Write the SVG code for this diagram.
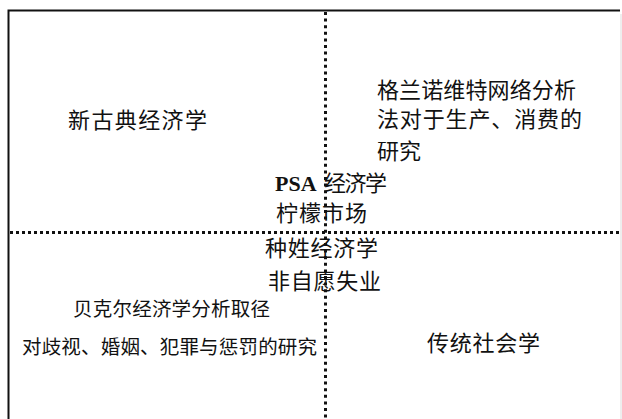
<svg xmlns="http://www.w3.org/2000/svg" width="622" height="419" viewBox="0 0 622 419">
<style>
.t{font-family:"Noto Sans CJK SC","Noto Sans CJK TC",sans-serif;font-size:22px;fill:#111}
.s{font-size:19.5px}
.b{font-family:"Liberation Serif","Noto Sans CJK SC",serif;font-weight:bold;font-size:22px;fill:#111}
.frame{stroke:#111;stroke-width:2;fill:none}
.vd{stroke:#111;stroke-width:3;stroke-dasharray:3 3.6;fill:none}
.hd{stroke:#111;stroke-width:3;stroke-dasharray:3 3;fill:none}
</style>
<rect width="622" height="419" fill="#fff"/>
<g id="frame">
<path class="frame" d="M8.5 419 V10.5 H620"/>
<path d="M621 14 V419" stroke="#ddd" stroke-width="1"/>
</g>
<g id="connectors">
<path class="vd" d="M325.5 12 V419"/>
<path class="hd" d="M10 232.5 H622"/>
</g>
<g id="neoclassical">
<text class="t" x="68" y="127.5" textLength="139" lengthAdjust="spacing">新古典经济学</text>
</g>
<g id="granovetter">
<text class="t" x="377" y="98" textLength="199" lengthAdjust="spacing">格兰诺维特网络分析</text>
<text class="t" x="377" y="127" textLength="205" lengthAdjust="spacing">法对于生产、消费的</text>
<text class="t" x="377" y="159">研究</text>
</g>
<g id="center">
<text x="275" y="191"><tspan class="b">PSA</tspan><tspan class="t" x="324" textLength="63" lengthAdjust="spacing">经济学</tspan></text>
<text class="t" x="276" y="221" textLength="91" lengthAdjust="spacing">柠檬市场</text>
<text class="t" x="265" y="255.5" textLength="113" lengthAdjust="spacing">种姓经济学</text>
<text class="t" x="268" y="289" textLength="113" lengthAdjust="spacing">非自愿失业</text>
</g>
<g id="becker">
<text class="t s" x="73" y="316" textLength="197" lengthAdjust="spacing">贝克尔经济学分析取径</text>
<text class="t s" x="22" y="353.5" textLength="295" lengthAdjust="spacing">对歧视、婚姻、犯罪与惩罚的研究</text>
</g>
<g id="sociology">
<text class="t" x="427" y="351" textLength="113" lengthAdjust="spacing">传统社会学</text>
</g>
</svg>
